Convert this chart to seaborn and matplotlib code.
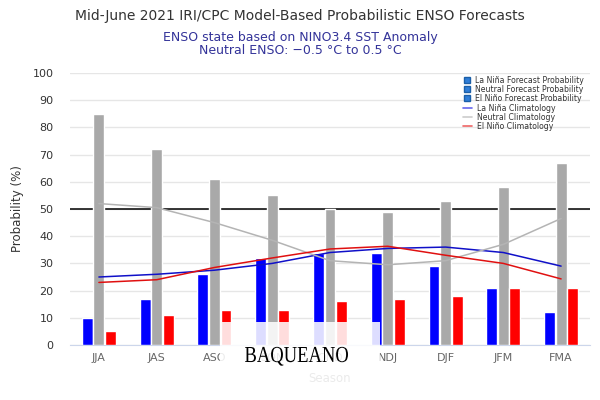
import numpy as np
import pandas as pd
import matplotlib
matplotlib.use("Agg")
import matplotlib.pyplot as plt
import seaborn as sns
from matplotlib.lines import Line2D
from matplotlib.patches import Rectangle, PathPatch
from matplotlib.textpath import TextPath
from matplotlib.font_manager import FontProperties
import matplotlib.transforms as mtransforms

# ---- data ----
seasons = ["JJA", "JAS", "ASO", "SON", "OND", "NDJ", "DJF", "JFM", "FMA"]
la_nina_prob = [10, 17, 26, 32, 34, 34, 29, 21, 12]
neutral_prob = [85, 72, 61, 55, 50, 49, 53, 58, 67]
el_nino_prob = [5, 11, 13, 13, 16, 17, 18, 21, 21]

la_nina_clim = [25, 26, 27.5, 30, 34, 35.5, 36, 34, 29]
neutral_clim = [52, 50.5, 45, 38.5, 31, 29.5, 31, 37, 46.5]
el_nino_clim = [23, 24, 28.5, 32, 35.3, 36.3, 33, 30, 24.3]

sns.set_style("white")
plt.rcParams["font.family"] = ["DejaVu Sans"]

probs = pd.DataFrame({
    "Season": seasons * 3,
    "Probability": la_nina_prob + neutral_prob + el_nino_prob,
    "State": ["La Niña"] * 9 + ["Neutral"] * 9 + ["El Niño"] * 9,
})
clim = pd.DataFrame({
    "Season": seasons * 3,
    "Probability": la_nina_clim + neutral_clim + el_nino_clim,
    "State": ["La Niña"] * 9 + ["Neutral"] * 9 + ["El Niño"] * 9,
})

fig = plt.figure(figsize=(6, 4), dpi=100)
ax = fig.add_axes([70 / 600, 55 / 400, 520 / 600, 272 / 400])

bar_colors = {"La Niña": "#0000ff", "Neutral": "#a9a9a9", "El Niño": "#ff0000"}
line_colors = {"La Niña": "#1010c8", "Neutral": "#b4b4b4", "El Niño": "#e01010"}

sns.barplot(data=probs, x="Season", y="Probability", hue="State",
            palette=bar_colors, width=0.6, gap=0.06, saturation=1,
            legend=False, ax=ax, zorder=3)
sns.lineplot(data=clim, x="Season", y="Probability", hue="State",
             palette=line_colors, linewidth=1.1, legend=False, ax=ax,
             zorder=4, sort=False)

ax.set_xlim(-0.5, len(seasons) - 0.5)
ax.set_ylim(0, 100)
ax.set_yticks(range(0, 101, 10))
ax.yaxis.grid(True, color="#e6e6e6", linewidth=1, zorder=0)
ax.set_axisbelow(True)
ax.axhline(50, color="black", linewidth=1.1, zorder=2)
for s in ["top", "right", "left"]:
    ax.spines[s].set_visible(False)
ax.spines["bottom"].set_color("#ccd6eb")
ax.tick_params(axis="y", length=0, labelsize=8, colors="#333333", pad=12)
ax.tick_params(axis="x", length=0, labelsize=8, colors="#666666", pad=6)
ax.set_ylabel("Probability (%)", fontsize=8.5, color="#333333", labelpad=6)
ax.set_xlabel("Season", fontsize=8.5, color="#666666", labelpad=6)

# titles
fig.text(0.5, 1 - 16 / 400, "Mid-June 2021 IRI/CPC Model-Based Probabilistic ENSO Forecasts",
         ha="center", va="center", fontsize=10, color="#333333")
fig.text(0.5, 1 - 37 / 400, "ENSO state based on NINO3.4 SST Anomaly",
         ha="center", va="center", fontsize=9, color="#333399")
fig.text(0.5, 1 - 51 / 400, "Neutral ENSO: \u22120.5 \u00b0C to 0.5 \u00b0C",
         ha="center", va="center", fontsize=9, color="#333399")

# legends
prob_handles = [Line2D([], [], marker="s", linestyle="none", markersize=4.5,
                       markerfacecolor="#2f7ed8", markeredgecolor="#1b5fa8")
                for _ in range(3)]
prob_labels = ["La Niña Forecast Probability", "Neutral Forecast Probability",
               "El Niño Forecast Probability"]
leg1 = ax.legend(prob_handles, prob_labels, loc="upper left",
                 bbox_to_anchor=(459 / 600, 1 - 72 / 400), bbox_transform=fig.transFigure,
                 frameon=False, fontsize=5.6, labelspacing=0.02, handlelength=1,
                 handletextpad=0.6, borderpad=0, labelcolor="#333333")
ax.add_artist(leg1)
clim_handles = [Line2D([], [], color=c, linewidth=1.2)
                for c in ["#6666ee", "#cccccc", "#ee6666"]]
clim_labels = ["La Niña Climatology", "Neutral Climatology", "El Niño Climatology"]
ax.legend(clim_handles, clim_labels, loc="upper left",
          bbox_to_anchor=(459 / 600, 1 - 100 / 400), bbox_transform=fig.transFigure,
          frameon=False, fontsize=5.6, labelspacing=0.02, handlelength=1.2,
          handletextpad=0.6, borderpad=0, labelcolor="#333333")

# watermark overlay
fig.patches.append(Rectangle((220 / 600, 5 / 400), 160 / 600, 73 / 400,
                             transform=fig.transFigure, facecolor="white",
                             alpha=0.87, edgecolor="none", zorder=10))
tp = TextPath((0, 0), "BAQUEANO", size=1, prop=FontProperties(family="Liberation Serif"))
ext = tp.get_extents()
cap = TextPath((0, 0), "B", size=1, prop=FontProperties(family="Liberation Serif")).get_extents()
sx = 103 / (ext.x1 - ext.x0)
sy = 15 / cap.y1
tr = mtransforms.Affine2D().translate(-ext.x0, 0).scale(sx, sy).translate(245, 400 - 362)
fig.patches.append(PathPatch(tr.transform_path(tp), facecolor="black", edgecolor="none",
                             transform=mtransforms.IdentityTransform(), zorder=11))

fig.savefig("out.png", dpi=100)
